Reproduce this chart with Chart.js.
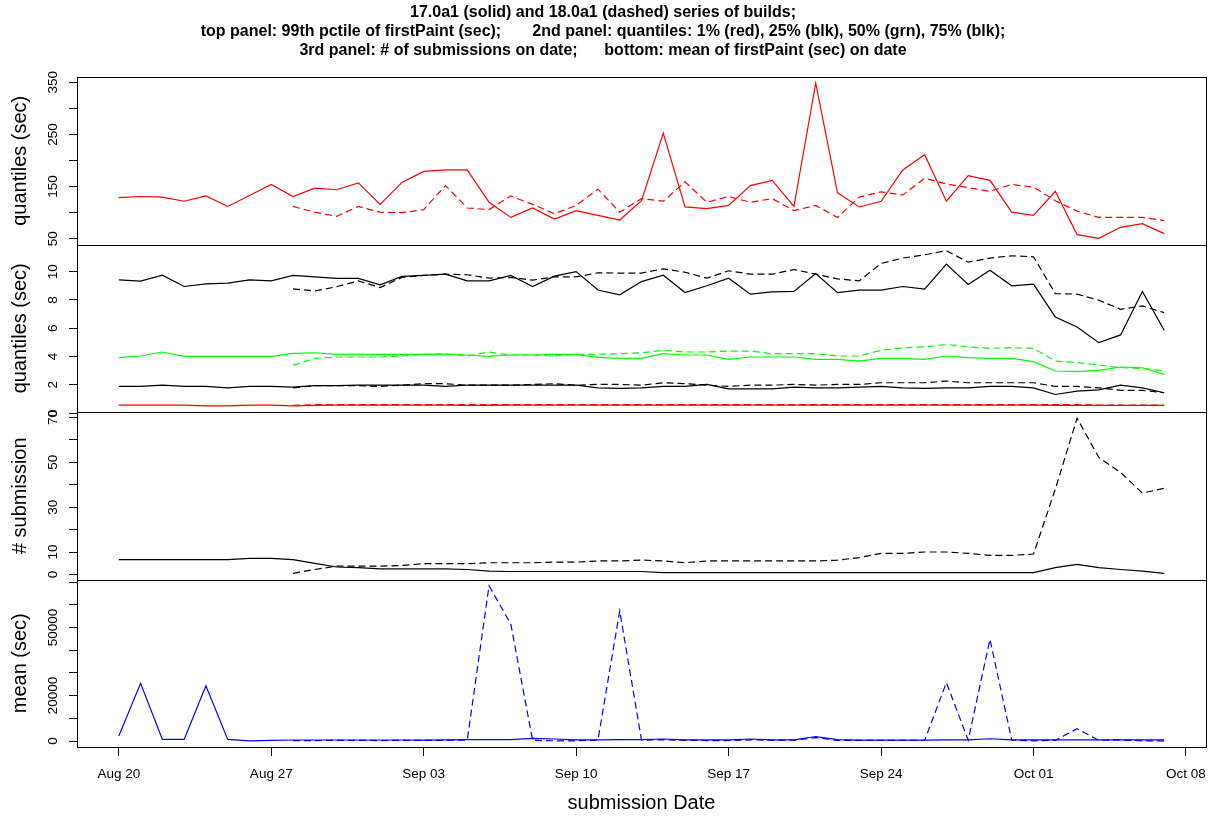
<!DOCTYPE html>
<html>
<head>
<meta charset="utf-8">
<title>firstPaint: 17.0a1 vs 18.0a1</title>
<script src="https://cdn.jsdelivr.net/npm/chart.js@4/dist/chart.umd.min.js"></script>
<style>
  html, body { margin: 0; padding: 0; background: #fff; }
</style>
</head>
<body>
<canvas id="myChart" width="1210" height="818"></canvas>
<script>
// one entry per submission day, Aug 20 .. Oct 07
var dates = ['Aug 20','Aug 21','Aug 22','Aug 23','Aug 24','Aug 25','Aug 26','Aug 27','Aug 28','Aug 29','Aug 30','Aug 31',
  'Sep 01','Sep 02','Sep 03','Sep 04','Sep 05','Sep 06','Sep 07','Sep 08','Sep 09','Sep 10','Sep 11','Sep 12','Sep 13','Sep 14','Sep 15',
  'Sep 16','Sep 17','Sep 18','Sep 19','Sep 20','Sep 21','Sep 22','Sep 23','Sep 24','Sep 25','Sep 26','Sep 27','Sep 28','Sep 29','Sep 30',
  'Oct 01','Oct 02','Oct 03','Oct 04','Oct 05','Oct 06','Oct 07'];
var dashedStart = dates.indexOf('Aug 28'); // 18.0a1 builds show up from here

var xTicks = [0, 7, 14, 21, 28, 35, 42, 49];
var xTickLabels = ['Aug 20','Aug 27','Sep 03','Sep 10','Sep 17','Sep 24','Oct 01','Oct 08'];

// top panel: 99th pctile of firstPaint (sec)
var p99Solid = [129,131,130,122,132,112,133,154,131,147, 144,157,116,158,179,182,182,120,91,109,
  88,104,95,86,123,252,111,108,114,152, 162,112,348,138,111,122,182,211,122,171, 162,101,95,141,58,51,72,79,60];
var p99Dashed = [112,101,93,112,101,100,106,152,109,106, 132,116,98,114,145,101,127,122,159,120,
  131,120,127,104,114,91,130,140,134,166, 155,148,141,154,149,123,103,91,91,91,85];

// 2nd panel: quantiles (sec)
var q75Solid = [9.42,9.33,9.75,8.95,9.14,9.19,9.42,9.35,9.73,9.63, 9.52,9.52,9.07,9.66,9.73,9.82,9.35,9.35,9.73,8.95,
  9.68,10.0,8.7,8.36,9.3,9.75,8.52,9.0,9.54,8.41, 8.57,8.6,9.87,8.52,8.69,8.69,8.95,8.76,10.53,9.09,
  10.1,9.0,9.11,6.8,6.09,4.98,5.53,8.6,5.86];
var q75Dashed = [8.78,8.64,8.93,9.35,8.88,9.59,9.73,9.82,9.78,9.54, 9.59,9.4,9.63,9.63,9.92,9.9,9.9,10.2,9.96,9.54,
  10.06,9.82,9.82,10.15,9.82,9.49,9.35,10.58,10.96,11.19, 11.48,10.67,10.96,11.12,11.05,8.45,8.41,7.98,7.34,7.58,7.1];
var q50Solid = [3.92,4.04,4.32,4.01,4.01,4.01,4.01,4.01,4.23,4.27, 4.16,4.16,4.16,4.16,4.16,4.16,4.11,4.01,4.11,4.11,
  4.16,4.16,3.94,3.87,3.87,4.2,4.11,4.11,3.8,3.97, 3.97,3.97,3.8,3.8,3.68,3.87,3.87,3.8,4.04,3.92,
  3.87,3.87,3.64,2.98,2.93,3.02,3.26,3.21,2.74];
var q50Dashed = [3.38,3.87,3.97,3.97,3.97,4.04,4.16,4.2,4.04,4.32, 4.11,4.11,4.04,4.16,4.16,4.2,4.27,4.44,4.32,4.32,
  4.39,4.39,4.2,4.2,4.2,4.04,4.04,4.44,4.63,4.68, 4.86,4.68,4.58,4.63,4.58,3.68,3.57,3.4,3.21,3.16,2.98];
var q25Solid = [1.89,1.89,1.98,1.89,1.89,1.79,1.89,1.89,1.84,1.94, 1.94,1.98,1.98,1.98,1.98,1.89,1.98,1.98,1.98,1.98,
  1.98,1.98,1.79,1.75,1.79,1.89,1.89,2.03,1.72,1.72, 1.72,1.84,1.79,1.79,1.84,1.89,1.79,1.75,1.79,1.79,
  1.89,1.89,1.79,1.32,1.56,1.65,1.98,1.79,1.44];
var q25Dashed = [1.79,1.94,1.94,1.94,1.89,1.98,2.08,2.08,1.98,1.98, 1.98,2.03,2.08,1.98,2.03,2.03,1.98,2.15,2.08,1.98,
  1.89,1.98,1.98,2.03,1.98,2.03,2.03,2.15,2.15,2.15, 2.27,2.15,2.15,2.15,2.15,1.89,1.89,1.79,1.61,1.61,1.44];
var q1Solid = [0.57,0.57,0.57,0.57,0.52,0.52,0.57,0.57,0.52,0.55, 0.57,0.57,0.57,0.57,0.57,0.57,0.55,0.55,0.57,0.57,
  0.57,0.57,0.57,0.57,0.57,0.57,0.57,0.57,0.57,0.57, 0.57,0.57,0.57,0.57,0.57,0.57,0.57,0.57,0.57,0.57,
  0.57,0.57,0.57,0.55,0.55,0.55,0.55,0.55,0.55];
var q1Dashed = [0.55,0.6,0.6,0.6,0.6,0.6,0.6,0.6,0.6,0.6, 0.6,0.6,0.6,0.6,0.6,0.6,0.6,0.6,0.6,0.6,
  0.6,0.6,0.6,0.6,0.6,0.6,0.6,0.6,0.6,0.6, 0.6,0.6,0.6,0.6,0.6,0.6,0.6,0.57,0.57,0.57,0.57];

// 3rd panel: # of submissions on date
var nSolid = [6.6,6.6,6.6,6.6,6.6,6.6,7.2,7.2,6.6,4.9, 3.3,3.0,2.5,2.5,2.5,2.5,2.2,1.5,1.3,1.3,
  1.3,1.3,1.3,1.3,1.3,0.8,0.8,0.8,0.8,0.8, 0.8,0.8,0.8,0.8,0.8,0.8,0.8,0.8,0.8,0.8,
  0.8,0.8,0.8,3.0,4.5,3.0,2.2,1.5,0.5];
var nDashed = [0.5,2.2,3.7,3.7,3.7,4.0,4.8,4.8,4.8,5.2, 5.2,5.2,5.5,5.5,6.0,6.0,6.4,6.0,5.2,6.0,
  6.0,6.0,6.0,6.0,6.0,6.4,7.5,9.4,9.4,10.0, 10.0,9.4,8.5,8.5,9.1,38.0,69.7,52.2,45.5,36.3,38.4];

// bottom panel: mean of firstPaint (sec) on date
var meanSolid = [2200,25400,700,700,24300,700,100,300,450,450, 450,450,450,450,400,500,600,600,600,1200,
  900,500,500,600,600,900,500,500,500,900, 500,500,2000,600,400,400,400,400,500,500,
  1000,500,500,500,500,500,500,500,500];
var meanDashed = [200,200,300,300,200,300,300,300,400,68400, 51500,300,100,100,400,57300,400,500,300,200,
  200,500,300,400,1500,300,300,300,300,300, 25700,400,44800,400,100,300,5400,300,500,100,100];

// y tick positions and the labels R kept (blank = tick mark only)
var p99Ticks = [50,100,150,200,250,300,350];
var p99TickLabels = ['50','','150','','250','','350'];
var qTicks = [0,2,4,6,8,10];
var qTickLabels = ['0','2','4','6','8','10'];
var nTicks = [0,10,20,30,40,50,60,70];
var nTickLabels = ['0','10','','30','','50','','70'];
var meanTicks = [0,10000,20000,30000,40000,50000,60000,70000];
var meanTickLabels = ['0','','20000','','','50000','',''];

var FONT = '"Liberation Sans", Arial, sans-serif';
Chart.defaults.font.family = FONT;
Chart.defaults.color = '#000';

function pts (values, start) {
    return values.map(function (v, k) { return {x: start + k, y: v}; });
}

// R style range: data extent plus 4% on each side
function rRange (lists) {
    var all = [].concat.apply([], lists);
    var lo = Math.min.apply(null, all), hi = Math.max.apply(null, all);
    var pad = (hi - lo) * 0.04;
    return [lo - pad, hi + pad];
}

function line (label, values, start, color, dashed, axis) {
    return {
        label: label,
        data: pts(values, start),
        yAxisID: axis,
        borderColor: color,
        backgroundColor: color,
        borderWidth: 1.2,
        borderDash: dashed ? [7, 4] : [],
        pointRadius: 0,
        tension: 0,
        fill: false
    };
}

function yAxis (title, range, ticks, labels) {
    return {
        type: 'linear',
        position: 'left',
        stack: 'panels',
        stackWeight: 1,
        min: range[0],
        max: range[1],
        afterBuildTicks: function (s) { s.ticks = ticks.map(function (v) { return {value: v}; }); },
        afterFit: function (s) { s.width = 77; },
        ticks: {display: false},
        rLabels: {values: ticks, labels: labels},
        grid: {drawOnChartArea: false, drawTicks: true, tickLength: 8, color: '#000', tickColor: '#000'},
        border: {display: false},
        title: {display: true, text: title, font: {size: 20}, padding: {top: 8, bottom: 0}, color: '#000'}
    };
}

// panel frames and vertical (rotated) y tick labels, as R draws them
var rFrames = {
    id: 'rFrames',
    afterDraw: function (chart) {
        var ctx = chart.ctx, area = chart.chartArea;
        var x0 = Math.round(area.left) + 0.5, x1 = Math.round(area.right) + 0.5;
        ctx.save();
        ctx.strokeStyle = '#000';
        ctx.lineWidth = 1;
        ['yTop', 'yQuant', 'yCount', 'yMean'].forEach(function (id) {
            var s = chart.scales[id];
            var y0 = Math.round(s.top) + 0.5, y1 = Math.round(s.bottom) + 0.5;
            ctx.strokeRect(x0, y0, x1 - x0, y1 - y0);
            var opt = s.options.rLabels;
            ctx.fillStyle = '#000';
            ctx.font = '13.5px ' + FONT;
            ctx.textAlign = 'center';
            ctx.textBaseline = 'alphabetic';
            opt.values.forEach(function (v, k) {
                if (!opt.labels[k]) return;
                ctx.save();
                ctx.translate(s.right - 20, s.getPixelForValue(v));
                ctx.rotate(-Math.PI / 2);
                ctx.fillText(opt.labels[k], 0, 0);
                ctx.restore();
            });
        });
        ctx.restore();
    }
};

var ctx = document.getElementById('myChart').getContext('2d');
var chart = new Chart(ctx, {
    type: 'line',
    data: {
        datasets: [
            line('17.0a1 99th pctile', p99Solid, 0, '#ff0000', false, 'yTop'),
            line('18.0a1 99th pctile', p99Dashed, dashedStart, '#ff0000', true, 'yTop'),
            line('17.0a1 75%', q75Solid, 0, '#000000', false, 'yQuant'),
            line('18.0a1 75%', q75Dashed, dashedStart, '#000000', true, 'yQuant'),
            line('17.0a1 50%', q50Solid, 0, '#00ff00', false, 'yQuant'),
            line('18.0a1 50%', q50Dashed, dashedStart, '#00ff00', true, 'yQuant'),
            line('17.0a1 25%', q25Solid, 0, '#000000', false, 'yQuant'),
            line('18.0a1 25%', q25Dashed, dashedStart, '#000000', true, 'yQuant'),
            line('17.0a1 1%', q1Solid, 0, '#ff0000', false, 'yQuant'),
            line('18.0a1 1%', q1Dashed, dashedStart, '#ff0000', true, 'yQuant'),
            line('17.0a1 submissions', nSolid, 0, '#000000', false, 'yCount'),
            line('18.0a1 submissions', nDashed, dashedStart, '#000000', true, 'yCount'),
            line('17.0a1 mean', meanSolid, 0, '#0000ff', false, 'yMean'),
            line('18.0a1 mean', meanDashed, dashedStart, '#0000ff', true, 'yMean')
        ]
    },
    options: {
        responsive: false,
        animation: false,
        layout: {padding: {left: 0, right: 4, top: 0, bottom: 0}},
        plugins: {
            legend: {display: false},
            tooltip: {enabled: false},
            title: {
                display: true,
                text: ['17.0a1 (solid) and 18.0a1 (dashed) series of builds;',
                    'top panel: 99th pctile of firstPaint (sec);       2nd panel: quantiles: 1% (red), 25% (blk), 50% (grn), 75% (blk);',
                    '3rd panel: # of submissions on date;      bottom: mean of firstPaint (sec) on date'],
                font: {size: 16, weight: 'bold', lineHeight: 1.2},
                color: '#000',
                padding: {top: 3, bottom: 16.4}
            }
        },
        scales: {
            x: {
                type: 'linear',
                position: 'bottom',
                min: -1.92,
                max: 49.92,
                afterBuildTicks: function (s) { s.ticks = xTicks.map(function (v) { return {value: v}; }); },
                afterFit: function (s) {
                    s.height = 71;
                    // the end labels fit inside the 4% margin, no extra side padding
                    s.paddingLeft = 0;
                    s.paddingRight = 0;
                },
                ticks: {
                    autoSkip: false,
                    maxRotation: 0,
                    font: {size: 13.5},
                    padding: 10,
                    callback: function (value, index) { return xTickLabels[index]; }
                },
                grid: {drawOnChartArea: false, drawTicks: true, tickLength: 9, color: '#000', tickColor: '#000'},
                border: {display: false},
                title: {display: true, text: 'submission Date', font: {size: 20}, padding: {top: 0, bottom: 3}}
            },
            // listed bottom panel first: Chart.js stacks later left axes above earlier ones
            yMean: yAxis('mean (sec)', rRange([meanSolid, meanDashed]), meanTicks, meanTickLabels),
            yCount: yAxis('# submission', rRange([nSolid, nDashed]), nTicks, nTickLabels),
            yQuant: yAxis('quantiles (sec)', rRange([q75Solid, q75Dashed, q1Solid, q1Dashed]), qTicks, qTickLabels),
            yTop: yAxis('quantiles (sec)', rRange([p99Solid, p99Dashed]), p99Ticks, p99TickLabels)
        }
    },
    plugins: [rFrames]
});
</script>
</body>
</html>
